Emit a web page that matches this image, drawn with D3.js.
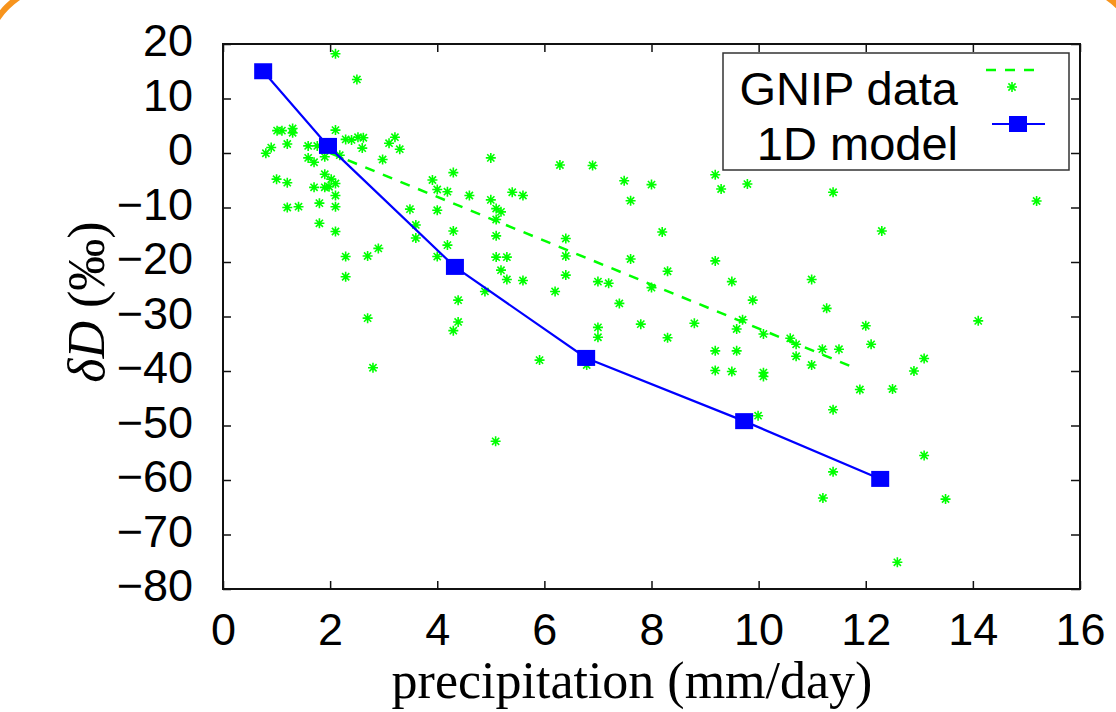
<!DOCTYPE html>
<html>
<head>
<meta charset="utf-8">
<script src="https://cdn.jsdelivr.net/npm/d3@7/dist/d3.min.js"></script>
<style>
  html, body { margin: 0; padding: 0; background: #fff; }
  svg { display: block; }
</style>
</head>
<body>
<svg id="chart" width="1116" height="712"></svg>
<script>
// GNIP observations: [precipitation mm/day, deltaD permil]
const gnipPoints = [
  [2.10,18.2],[2.50,13.5],[1.01,4.1],[1.10,4.1],[1.30,4.5],[1.30,3.7],[2.10,4.2],[2.29,2.5],
  [2.40,2.4],[2.52,2.9],[2.62,2.8],[3.21,2.9],[3.10,1.8],[3.30,0.7],[2.60,0.9],[1.20,1.65],
  [0.90,1.0],[0.80,-0.05],[1.59,1.3],[1.76,1.3],[1.59,-0.9],[1.70,-1.7],[1.90,-0.7],[2.18,-0.4],
  [2.98,-1.2],[1.90,-3.9],[2.02,-4.8],[2.10,-5.6],[1.98,-6.2],[1.90,-6.3],[1.70,-6.3],[2.10,-7.8],
  [1.80,-9.2],[1.20,-10.0],[1.41,-9.85],[2.10,-9.85],[1.00,-4.8],[1.20,-5.45],[1.80,-12.9],[2.10,-14.4],
  [2.29,-19.0],[2.70,-18.9],[2.90,-17.5],[2.29,-22.7],[2.70,-30.3],[3.49,-10.3],[4.00,-10.5],[3.60,-13.2],
  [3.60,-15.6],[3.91,-4.95],[4.00,-6.7],[4.19,-7.1],[4.30,-3.6],[4.60,-7.8],[4.30,-14.3],[4.19,-16.9],
  [4.00,-19.0],[5.00,-0.9],[5.00,-8.6],[4.89,-25.4],[4.39,-27.0],[4.39,-31.0],[4.30,-32.6],[2.80,-39.4],
  [5.09,-52.9],
  [6.29,-2.2],[6.90,-2.3],[7.49,-5.1],[8.00,-5.8],[9.19,-4.0],[9.30,-6.6],[9.79,-5.7],[7.61,-8.75],
  [5.40,-7.2],[5.60,-7.8],[5.10,-10.2],[5.19,-10.8],[5.10,-12.2],[5.10,-15.2],[5.10,-19.1],[5.30,-19.1],
  [5.19,-21.5],[5.30,-23.2],[5.60,-23.4],[6.40,-15.7],[6.40,-18.9],[6.40,-22.4],[6.20,-25.4],[7.00,-23.6],
  [7.20,-23.9],[7.61,-19.45],[8.20,-14.5],[8.30,-21.7],[8.00,-24.7],[7.40,-27.6],[7.80,-31.4],[7.00,-32.0],
  [7.00,-33.8],[8.30,-33.9],[8.80,-31.25],[5.91,-38.0],[6.79,-38.9],[9.19,-19.8],[9.50,-23.6],[9.89,-27.0],
  [10.99,-23.2],[11.27,-28.5],[9.70,-30.6],[9.59,-32.3],[10.09,-33.2],[10.59,-34.0],[10.70,-35.1],[10.70,-37.3],
  [10.99,-38.9],[11.19,-36.0],[9.19,-36.3],[9.59,-36.3],[9.19,-39.9],[9.50,-40.1],[10.09,-40.3],[10.09,-41.0],
  [9.99,-48.2],[11.39,-47.1],
  [11.39,-7.2],[15.19,-8.8],[12.30,-14.3],[12.00,-31.7],[14.10,-30.8],[12.10,-35.1],[11.50,-36.0],[13.09,-37.7],
  [12.90,-40.0],[11.89,-43.4],[12.50,-43.3],
  [13.09,-55.5],[11.39,-58.5],[11.20,-63.3],[13.49,-63.5],[12.59,-75.1]
];
// linear fit through GNIP data (dashed)
const gnipFit = [[2.0, 0.0], [11.84, -39.6]];
// 1D model
const modelX = [0.75, 1.96, 4.33, 6.78, 9.73, 12.27];
const modelY = [15.0, 1.3, -20.9, -37.6, -49.2, -59.8];

const xTicks = [0, 2, 4, 6, 8, 10, 12, 14, 16];
const yTicks = [-80, -70, -60, -50, -40, -30, -20, -10, 0, 10, 20];
const legendLabels = ['GNIP data', '1D model'];

const svg = d3.select('#chart');
const L = 223, R = 1080, T = 44, B = 589;
const x = d3.scaleLinear().domain([0, 16]).range([L, R]);
const y = d3.scaleLinear().domain([-80, 20]).range([B, T]);
const green = '#00ff00', blue = '#0000ff';
const sans = '"Liberation Sans", Arial, Helvetica, sans-serif';
const serif = '"Liberation Serif", "Times New Roman", serif';

// orange slide border peeking in at the corners
svg.append('rect').attr('x', -15).attr('y', -15).attr('width', 1156).attr('height', 1200)
  .attr('rx', 75).attr('fill', 'none').attr('stroke', '#f7941d').attr('stroke-width', 6);

// axes (ticks inward, mirrored on top/right)
const fmt = d => d < 0 ? '\u2212' + Math.abs(d) : String(d);
svg.append('g').attr('transform', `translate(0,${B})`)
  .call(d3.axisBottom(x).tickValues(xTicks).tickSizeInner(-8).tickSizeOuter(0).tickPadding(24).tickFormat(fmt))
  .call(g => g.select('.domain').remove());
svg.append('g').attr('transform', `translate(0,${T})`)
  .call(d3.axisTop(x).tickValues(xTicks).tickSizeInner(-8).tickSizeOuter(0).tickFormat(''))
  .call(g => g.select('.domain').remove());
svg.append('g').attr('transform', `translate(${L},0)`)
  .call(d3.axisLeft(y).tickValues(yTicks).tickSizeInner(-8).tickSizeOuter(0).tickPadding(30).tickFormat(fmt))
  .call(g => g.select('.domain').remove())
  .call(g => g.selectAll('text').attr('dy', '0.26em'));
svg.append('g').attr('transform', `translate(${R},0)`)
  .call(d3.axisRight(y).tickValues(yTicks).tickSizeInner(-9).tickSizeOuter(0).tickFormat(''))
  .call(g => g.select('.domain').remove());
svg.selectAll('.tick line').attr('stroke', '#111').attr('stroke-width', 1.5);
svg.selectAll('.tick text').attr('font-family', sans).attr('font-size', 45).attr('fill', '#000');

svg.append('rect').attr('x', L).attr('y', T).attr('width', R - L).attr('height', B - T)
  .attr('fill', 'none').attr('stroke', '#111').attr('stroke-width', 2);

// axis titles
svg.append('text').attr('x', 632).attr('y', 698).attr('text-anchor', 'middle')
  .attr('font-family', serif).attr('font-size', 52).text('precipitation (mm/day)');
const yl = svg.append('text').attr('transform', 'translate(104,302) rotate(-90)')
  .attr('text-anchor', 'middle').attr('font-family', serif).attr('font-size', 52);
yl.append('tspan').attr('font-style', 'italic').text('\u03b4D');
yl.append('tspan').text(' (\u2030)');

// GNIP scatter
const star = 'M-5,0H5M0,-5V5M-3.6,-3.6L3.6,3.6M-3.6,3.6L3.6,-3.6';
svg.append('g').selectAll('path').data(gnipPoints).join('path')
  .attr('transform', d => `translate(${x(d[0])},${y(d[1])})`)
  .attr('d', star).attr('stroke', green).attr('stroke-width', 1.6).attr('fill', 'none');

// GNIP fit
svg.append('path').attr('d', d3.line().x(d => x(d[0])).y(d => y(d[1]))(gnipFit))
  .attr('fill', 'none').attr('stroke', green).attr('stroke-width', 2.5).attr('stroke-dasharray', '10,9');

// 1D model
const model = modelX.map((v, i) => [v, modelY[i]]);
svg.append('path').attr('d', d3.line().x(d => x(d[0])).y(d => y(d[1]))(model))
  .attr('fill', 'none').attr('stroke', blue).attr('stroke-width', 2.2);
svg.append('g').selectAll('rect').data(model).join('rect')
  .attr('x', d => x(d[0]) - 9).attr('y', d => y(d[1]) - 8).attr('width', 18).attr('height', 16)
  .attr('fill', blue);

// legend
const lg = svg.append('g');
lg.append('rect').attr('x', 723).attr('y', 53).attr('width', 346).attr('height', 117)
  .attr('fill', '#fff').attr('stroke', '#333').attr('stroke-width', 1.5);
lg.selectAll('text').data(legendLabels).join('text')
  .attr('x', 958).attr('y', (d, i) => 105 + i * 55).attr('text-anchor', 'end')
  .attr('font-family', sans).attr('font-size', 47).text(d => d);
lg.append('line').attr('x1', 986).attr('x2', 1040).attr('y1', 70).attr('y2', 70)
  .attr('stroke', green).attr('stroke-width', 2.5).attr('stroke-dasharray', '10,9');
lg.append('path').attr('transform', 'translate(1012,87)').attr('d', star)
  .attr('stroke', green).attr('stroke-width', 1.6).attr('fill', 'none');
lg.append('line').attr('x1', 992).attr('x2', 1045).attr('y1', 124).attr('y2', 124)
  .attr('stroke', blue).attr('stroke-width', 2.2);
lg.append('rect').attr('x', 1009).attr('y', 116).attr('width', 18).attr('height', 16).attr('fill', blue);
</script>
</body>
</html>
